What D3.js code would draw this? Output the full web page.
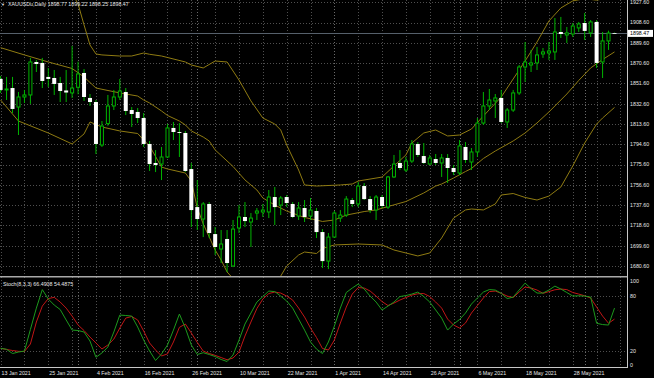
<!DOCTYPE html>
<html>
<head>
<meta charset="utf-8">
<script src="https://cdn.jsdelivr.net/npm/d3@7"></script>
<style>
  html, body { margin: 0; padding: 0; background: #000; }
  svg { display: block; }
  text { font-family: "Liberation Sans", Arial, sans-serif; font-size: 5.3px; fill: #e6e6e6; }
</style>
</head>
<body>
<script>
// XAUUSDu daily bars, 13 Jan 2021 .. 8 Jun 2021
var opens = [1855.8,1845.5,1847.3,1829.5,1838.9,1840.8,1871.7,1870.8,1857.7,1856.7,
  1852.0,1845.0,1842.7,1848.0,1861.4,1838.0,1834.2,1793.9,1814.0,1830.5,
  1838.9,1843.6,1826.7,1824.9,1819.2,1794.9,1777.1,1776.1,1782.7,1809.9,
  1806.1,1805.2,1771.4,1735.8,1724.6,1738.7,1710.5,1696.5,1705.9,1680.6,
  1716.2,1726.5,1721.8,1730.2,1731.2,1731.2,1745.2,1737.7,1745.2,1738.7,
  1727.4,1734.9,1727.4,1732.1,1712.4,1685.2,1707.7,1725.5,1728.3,1742.4,
  1738.7,1755.5,1743.3,1733.0,1745.2,1735.8,1764.0,1777.1,1770.5,1778.9,
  1794.9,1783.6,1776.1,1780.8,1777.1,1781.8,1772.4,1767.7,1792.1,1778.0,
  1787.4,1814.5,1830.5,1835.2,1838.0,1815.5,1826.7,1842.7,1867.0,1868.9,
  1870.8,1879.2,1880.1,1881.1,1899.8,1897.0,1897.9,1903.6,1908.2,1898.9,
  1909.2,1871.7,1891.4,1898.77];
var highs = [1858.6,1857.7,1857.7,1843.6,1845.5,1875.5,1873.6,1875.5,1866.1,1864.2,
  1857.7,1864.2,1886.7,1872.0,1865.1,1841.7,1836.1,1816.4,1840.8,1845.5,
  1855.8,1847.3,1829.5,1828.6,1823.9,1797.7,1789.2,1792.1,1813.6,1815.5,
  1814.5,1807.1,1777.1,1761.1,1740.5,1740.5,1717.1,1714.3,1714.3,1723.7,
  1737.7,1740.5,1730.2,1734.9,1738.7,1751.8,1754.6,1746.1,1747.1,1740.5,
  1740.5,1742.4,1744.3,1734.9,1715.2,1711.5,1732.1,1733.0,1746.1,1744.3,
  1759.3,1758.3,1746.1,1747.1,1747.1,1764.9,1784.6,1789.2,1782.7,1798.6,
  1796.7,1795.8,1784.6,1785.5,1785.5,1785.5,1775.2,1798.6,1796.7,1791.1,
  1819.2,1843.6,1846.4,1841.7,1845.5,1828.6,1845.5,1868.9,1890.4,1883.0,
  1885.8,1884.8,1890.4,1912.9,1913.9,1904.5,1908.2,1909.2,1917.6,1911.0,
  1911.0,1899.8,1901.0,1899.22];
var lows = [1842.7,1836.1,1823.9,1803.3,1833.3,1832.4,1862.3,1847.3,1848.3,1840.8,
  1834.2,1834.2,1838.0,1841.5,1835.2,1830.5,1785.5,1792.1,1812.0,1826.7,
  1836.1,1822.0,1810.8,1814.5,1792.1,1769.6,1768.6,1761.1,1781.8,1798.6,
  1782.7,1768.6,1717.1,1714.3,1707.7,1706.8,1690.9,1683.4,1674.9,1679.6,
  1711.5,1717.1,1698.4,1723.7,1726.5,1725.5,1719.0,1728.3,1735.8,1725.5,
  1723.7,1721.8,1723.7,1706.8,1678.7,1677.7,1706.8,1721.8,1726.5,1735.8,
  1735.8,1742.4,1730.2,1723.7,1734.9,1734.0,1763.0,1770.5,1768.6,1777.1,
  1782.7,1776.1,1775.2,1775.2,1764.0,1758.3,1765.8,1765.8,1777.1,1770.5,
  1782.7,1812.7,1826.7,1819.2,1814.5,1809.9,1824.9,1840.8,1853.0,1862.3,
  1864.2,1875.5,1873.6,1873.6,1894.2,1889.5,1895.1,1899.8,1892.3,1895.1,
  1866.1,1856.7,1883.0,1898.25];
var closes = [1845.5,1846.4,1827.7,1838.9,1840.8,1871.7,1869.8,1853.9,1855.8,1851.1,
  1844.5,1843.1,1847.3,1860.5,1838.9,1834.2,1794.9,1811.7,1830.5,1838.9,
  1844.5,1825.8,1823.0,1819.2,1794.9,1776.1,1775.2,1782.7,1809.9,1806.1,
  1805.2,1769.6,1733.0,1724.6,1738.7,1711.5,1698.4,1701.2,1683.4,1715.2,
  1726.5,1722.7,1725.5,1732.1,1733.0,1745.2,1735.8,1744.3,1739.6,1726.5,
  1734.9,1726.5,1733.0,1712.4,1685.2,1707.7,1730.2,1728.3,1743.3,1738.7,
  1755.5,1743.3,1733.0,1745.2,1736.8,1764.0,1776.1,1772.4,1778.9,1794.9,
  1784.6,1777.1,1781.8,1777.1,1781.8,1772.4,1768.6,1793.0,1779.9,1787.4,
  1814.5,1830.5,1836.1,1838.0,1815.5,1826.7,1842.7,1867.0,1871.7,1870.8,
  1878.3,1881.1,1882.0,1899.8,1897.9,1898.9,1905.4,1907.3,1900.8,1909.2,
  1870.8,1891.4,1898.8,1898.47];

// Bollinger bands, [bar, price]
var bbUpper = [[0,1934],[6,1940],[10,1936.4],[12,1936],[13,1926],[14,1906.4],[15,1887.6],[16,1879.2],
  [17,1878.3],[20,1877.3],[22,1877.3],[24,1880.1],[25,1878.9],[27,1877.3],[31,1871.7],[32,1868.9],
  [34,1866.1],[36,1872.6],[38,1871.7],[40,1854.8],[42,1835.2],[44,1819.2],[46,1813.6],[47,1808.0],
  [48,1793.9],[50,1770.5],[51,1756.5],[53,1755.5],[57,1756.5],[59,1757.4],[60,1760.2],[64,1763.9],
  [66,1774.3],[68,1784.6],[69,1795.8],[71,1805.2],[73,1808.0],[75,1802.4],[77,1803.3],[79,1808.9],
  [81,1821.1],[84,1838.9],[86,1855.8],[88,1872.6],[90,1890.4],[92,1910.1],[94,1922.3],[96,1928.9],
  [98,1931],[100,1929.6],[103,1933]];
var bbMiddle = [[0,1885.1],[4,1878.3],[8,1871.7],[12,1865.6],[14,1857.7],[16,1847.3],[20,1842.7],
  [23,1839.8],[24,1836.1],[25,1833.3],[27,1825.8],[28,1821.6],[30,1816.4],[31,1812.7],[32,1807.1],
  [34,1801.4],[35,1797.7],[36,1789.3],[39,1773.8],[41,1761.2],[43,1751.8],[44,1744.3],[46,1737.7],
  [48,1732.1],[51,1726.0],[53,1723.7],[54,1722.3],[56,1723.7],[58,1728.3],[61,1731.6],[63,1733.1],
  [65,1736.3],[68,1741.0],[71,1749.0],[73,1755.5],[74,1757.4],[76,1763.0],[78,1769.1],[79,1771.9],
  [81,1781.3],[83,1788.3],[86,1797.7],[88,1805.2],[90,1814.6],[92,1824.9],[95,1841.7],[97,1854.4],
  [99,1866.1],[101,1874.0],[103,1881.1]];
var bbLower = [[0,1836.1],[3,1816.4],[8,1805.2],[12,1794.9],[14,1804.3],[15,1815.5],[17,1810.8],
  [20,1807.1],[23,1804.7],[24,1798.6],[25,1793.0],[27,1773.3],[28,1771.5],[31,1767.7],[32,1760.2],
  [33,1734.9],[34,1720.0],[36,1695.6],[37,1686.2],[38,1675.0],[40,1662.8],[43,1656.2],[45,1660.0],
  [47,1671.2],[48,1680.6],[50,1690.9],[51,1693.7],[53,1692.3],[54,1697.0],[56,1700.3],[60,1701.2],
  [64,1700.3],[66,1695.6],[70,1690.0],[72,1692.8],[74,1706.8],[75,1716.2],[76,1725.5],[78,1733.1],
  [79,1734.0],[81,1733.1],[83,1738.7],[84,1747.1],[86,1748.5],[88,1744.8],[90,1742.4],[92,1746.1],
  [94,1754.6],[96,1774.3],[98,1795.8],[100,1813.6],[101,1819.2],[103,1829.1]];

// Stochastic(8,3,3)
var stochMain = [22.6,21.5,16.9,18.5,19.6,43.1,66.5,86.7,76.4,69.8,
  64.9,53.5,42.5,42.0,40.4,30.5,12.8,17.5,24.0,40.4,
  58.9,58.4,57.8,45.8,31.6,19.6,9.3,16.4,26.2,42.5,
  60.0,44.7,26.2,15.8,17.8,15.8,13.6,10.4,8.2,15.3,
  31.6,49.1,61.1,73.1,79.1,85.1,84.5,79.6,74.2,66.5,
  54.5,42.5,29.5,21.8,16.9,29.5,46.9,66.5,83.5,88.4,
  92.7,87.3,79.6,73.1,64.4,68.7,73.1,79.1,80.2,81.8,
  84.0,79.1,73.1,64.4,55.6,42.5,49.1,54.0,61.1,70.9,
  77.5,84.0,86.7,86.2,82.6,76.9,78.5,86.2,93.8,87.8,
  82.9,82.9,86.2,90.5,87.3,83.5,79.6,79.9,79.6,78.5,
  49.9,48.5,48.0,66.49];
var stochSignal = [22.6,21.3,20.2,19.3,19.1,27.3,51.3,68.7,76.9,78.2,
  73.1,66.5,57.8,48.0,42.0,34.9,28.4,21.8,26.2,32.7,
  44.7,55.6,57.3,53.5,41.5,28.4,20.7,14.2,16.5,29.5,
  45.5,49.1,39.3,29.0,19.5,16.9,14.9,12.5,10.1,12.0,
  18.5,36.0,51.3,66.0,76.4,82.4,84.0,82.9,79.6,75.3,
  66.5,56.7,44.7,34.4,22.4,20.7,31.6,50.2,67.6,81.8,
  88.9,88.4,85.1,79.6,73.6,69.3,72.0,75.3,78.0,80.7,
  82.1,82.4,79.1,73.1,66.5,54.5,48.0,44.7,50.2,61.1,
  69.3,77.5,84.5,85.1,82.6,79.6,78.0,84.0,89.5,88.4,
  86.2,82.6,84.5,86.5,87.3,86.7,83.5,81.8,79.9,77.5,
  67.6,57.8,49.9,54.49];

var priceTicks = [1680.6,1699.6,1718.6,1737.6,1756.6,1775.6,1794.6,1813.6,1832.6,1851.6,1870.6,1889.6,1908.6,1927.6];
var stochTicks = [100, 80, 20, 0];
var dateLabels = ["13 Jan 2021","25 Jan 2021","4 Feb 2021","16 Feb 2021","26 Feb 2021","10 Mar 2021",
  "22 Mar 2021","1 Apr 2021","14 Apr 2021","26 Apr 2021","6 May 2021","18 May 2021","28 May 2021"];
var monthStarts = [13, 33, 56, 77, 98];
var bid = 1898.47;

var width = 654, height = 378;
var plotW = 627;
var mainH = 276;
var stochTop = 277, stochBottom = 367;

var x = d3.scaleLinear().domain([0, 103]).range([0.6, 614.5]);
var y = d3.scaleLinear().domain([1680.6, 1927.6]).range([266, 2.3]);
var ys = d3.scaleLinear().domain([0, 100]).range([369, 277.4]);

var svg = d3.select("body").append("svg")
    .attr("width", width)
    .attr("height", height)
    .style("background", "#000");

var defs = svg.append("defs");
defs.append("clipPath").attr("id", "clipMain")
  .append("rect").attr("x", 0).attr("y", 0).attr("width", plotW).attr("height", mainH);
defs.append("clipPath").attr("id", "clipStoch")
  .append("rect").attr("x", 0).attr("y", stochTop).attr("width", plotW).attr("height", stochBottom - stochTop);

// grid
var grid = svg.append("g")
    .attr("stroke", "#4f4f4f")
    .attr("stroke-width", 1)
    .attr("stroke-dasharray", "1,2");

grid.selectAll(".hgrid")
    .data(priceTicks)
  .enter().append("line")
    .attr("x1", 0).attr("x2", plotW)
    .attr("y1", function(d) { return Math.round(y(d)) + 0.5; })
    .attr("y2", function(d) { return Math.round(y(d)) + 0.5; });

grid.selectAll(".sgrid")
    .data([80, 20])
  .enter().append("line")
    .attr("x1", 0).attr("x2", plotW)
    .attr("y1", function(d) { return Math.round(ys(d)) + 0.5; })
    .attr("y2", function(d) { return Math.round(ys(d)) + 0.5; });

var vbars = d3.range(0, 105, 4);
[[0, mainH], [stochTop, stochBottom]].forEach(function(span) {
  grid.selectAll(null)
      .data(vbars)
    .enter().append("line")
      .attr("x1", function(d) { return Math.round(x(d)) + 0.5; })
      .attr("x2", function(d) { return Math.round(x(d)) + 0.5; })
      .attr("y1", span[0]).attr("y2", span[1]);
  grid.selectAll(null)
      .data(monthStarts)
    .enter().append("line")
      .attr("stroke", "#6a6a6a")
      .attr("x1", function(d) { return Math.round(x(d)) + 0.5; })
      .attr("x2", function(d) { return Math.round(x(d)) + 0.5; })
      .attr("y1", span[0]).attr("y2", span[1]);
});

// main pane
var main = svg.append("g").attr("clip-path", "url(#clipMain)");

main.append("line")
    .attr("x1", 0).attr("x2", plotW)
    .attr("y1", Math.round(y(bid)) + 0.5).attr("y2", Math.round(y(bid)) + 0.5)
    .attr("stroke", "#56606b");

var bandLine = d3.line()
    .x(function(d) { return x(d[0]); })
    .y(function(d) { return y(d[1]); });

main.selectAll(".band")
    .data([bbUpper, bbMiddle, bbLower])
  .enter().append("path")
    .attr("d", bandLine)
    .attr("fill", "none")
    .attr("stroke", "#8f7b12")
    .attr("stroke-width", 1);

var bars = opens.map(function(o, i) {
  return { i: i, o: o, h: highs[i], l: lows[i], c: closes[i] };
});

main.selectAll(".wick")
    .data(bars)
  .enter().append("line")
    .attr("x1", function(d) { return x(d.i); })
    .attr("x2", function(d) { return x(d.i); })
    .attr("y1", function(d) { return y(d.h); })
    .attr("y2", function(d) { return y(d.l); })
    .attr("stroke", "#00b400")
    .attr("stroke-width", 1);

main.selectAll(".body")
    .data(bars)
  .enter().append("rect")
    .attr("x", function(d) { return d.c >= d.o ? x(d.i) - 1.5 : x(d.i) - 2; })
    .attr("width", function(d) { return d.c >= d.o ? 3 : 4; })
    .attr("y", function(d) { return y(Math.max(d.o, d.c)); })
    .attr("height", function(d) { return Math.max(Math.abs(y(d.o) - y(d.c)), 0.8); })
    .attr("fill", function(d) { return d.c >= d.o ? "#000" : "#fff"; })
    .attr("stroke", function(d) { return d.c >= d.o ? "#00b400" : "none"; })
    .attr("stroke-width", 1);

// stochastic pane
var stoch = svg.append("g").attr("clip-path", "url(#clipStoch)");
var stochLine = d3.line()
    .x(function(d, i) { return x(i); })
    .y(function(d) { return ys(d); });

stoch.append("path")
    .attr("d", stochLine(stochSignal))
    .attr("fill", "none")
    .attr("stroke", "#c01616")
    .attr("stroke-width", 1);
stoch.append("path")
    .attr("d", stochLine(stochMain))
    .attr("fill", "none")
    .attr("stroke", "#1d9a1d")
    .attr("stroke-width", 1);

// frame
svg.append("rect")
    .attr("x", 0).attr("y", mainH).attr("width", plotW).attr("height", 1.5)
    .attr("fill", "#a9a9a9");
svg.append("line")
    .attr("x1", plotW + 0.5).attr("x2", plotW + 0.5)
    .attr("y1", 0).attr("y2", stochBottom + 1)
    .attr("stroke", "#c8c8c8");
svg.append("line")
    .attr("x1", 0).attr("x2", plotW + 1)
    .attr("y1", stochBottom + 0.5).attr("y2", stochBottom + 0.5)
    .attr("stroke", "#c8c8c8");

// price axis
var axis = svg.append("g");
axis.selectAll(".ptick")
    .data(priceTicks)
  .enter().append("text")
    .attr("x", 630)
    .attr("y", function(d) { return y(d); })
    .attr("dy", "0.35em")
    .text(function(d) { return d.toFixed(2); });

axis.selectAll(".stick")
    .data(stochTicks)
  .enter().append("text")
    .attr("x", 630)
    .attr("y", function(d) { return d === 100 ? 281 : d === 0 ? 365.5 : ys(d); })
    .attr("dy", "0.35em")
    .text(function(d) { return d; });

axis.append("rect")
    .attr("x", 628).attr("y", y(bid) - 3.5)
    .attr("width", 25).attr("height", 7)
    .attr("fill", "#fff");
axis.append("text")
    .attr("x", 630).attr("y", y(bid))
    .attr("dy", "0.35em")
    .style("fill", "#000")
    .text(bid.toFixed(2));

// date axis
axis.selectAll(".dtick")
    .data(dateLabels)
  .enter().append("text")
    .attr("x", function(d, i) { return x(i * 8) + 1; })
    .attr("y", 374.5)
    .text(function(d) { return d; });

// titles
svg.append("text")
    .attr("x", 1).attr("y", 6)
    .style("font-size", "4px")
    .text("\u25BC");
svg.append("text")
    .attr("x", 8).attr("y", 6)
    .text("XAUUSDu,Daily  1898.77 1899.22 1898.25 1898.47");
svg.append("text")
    .attr("x", 3).attr("y", 285.5)
    .text("Stoch(8,3,3) 66.4908 54.4875");
</script>
</body>
</html>
